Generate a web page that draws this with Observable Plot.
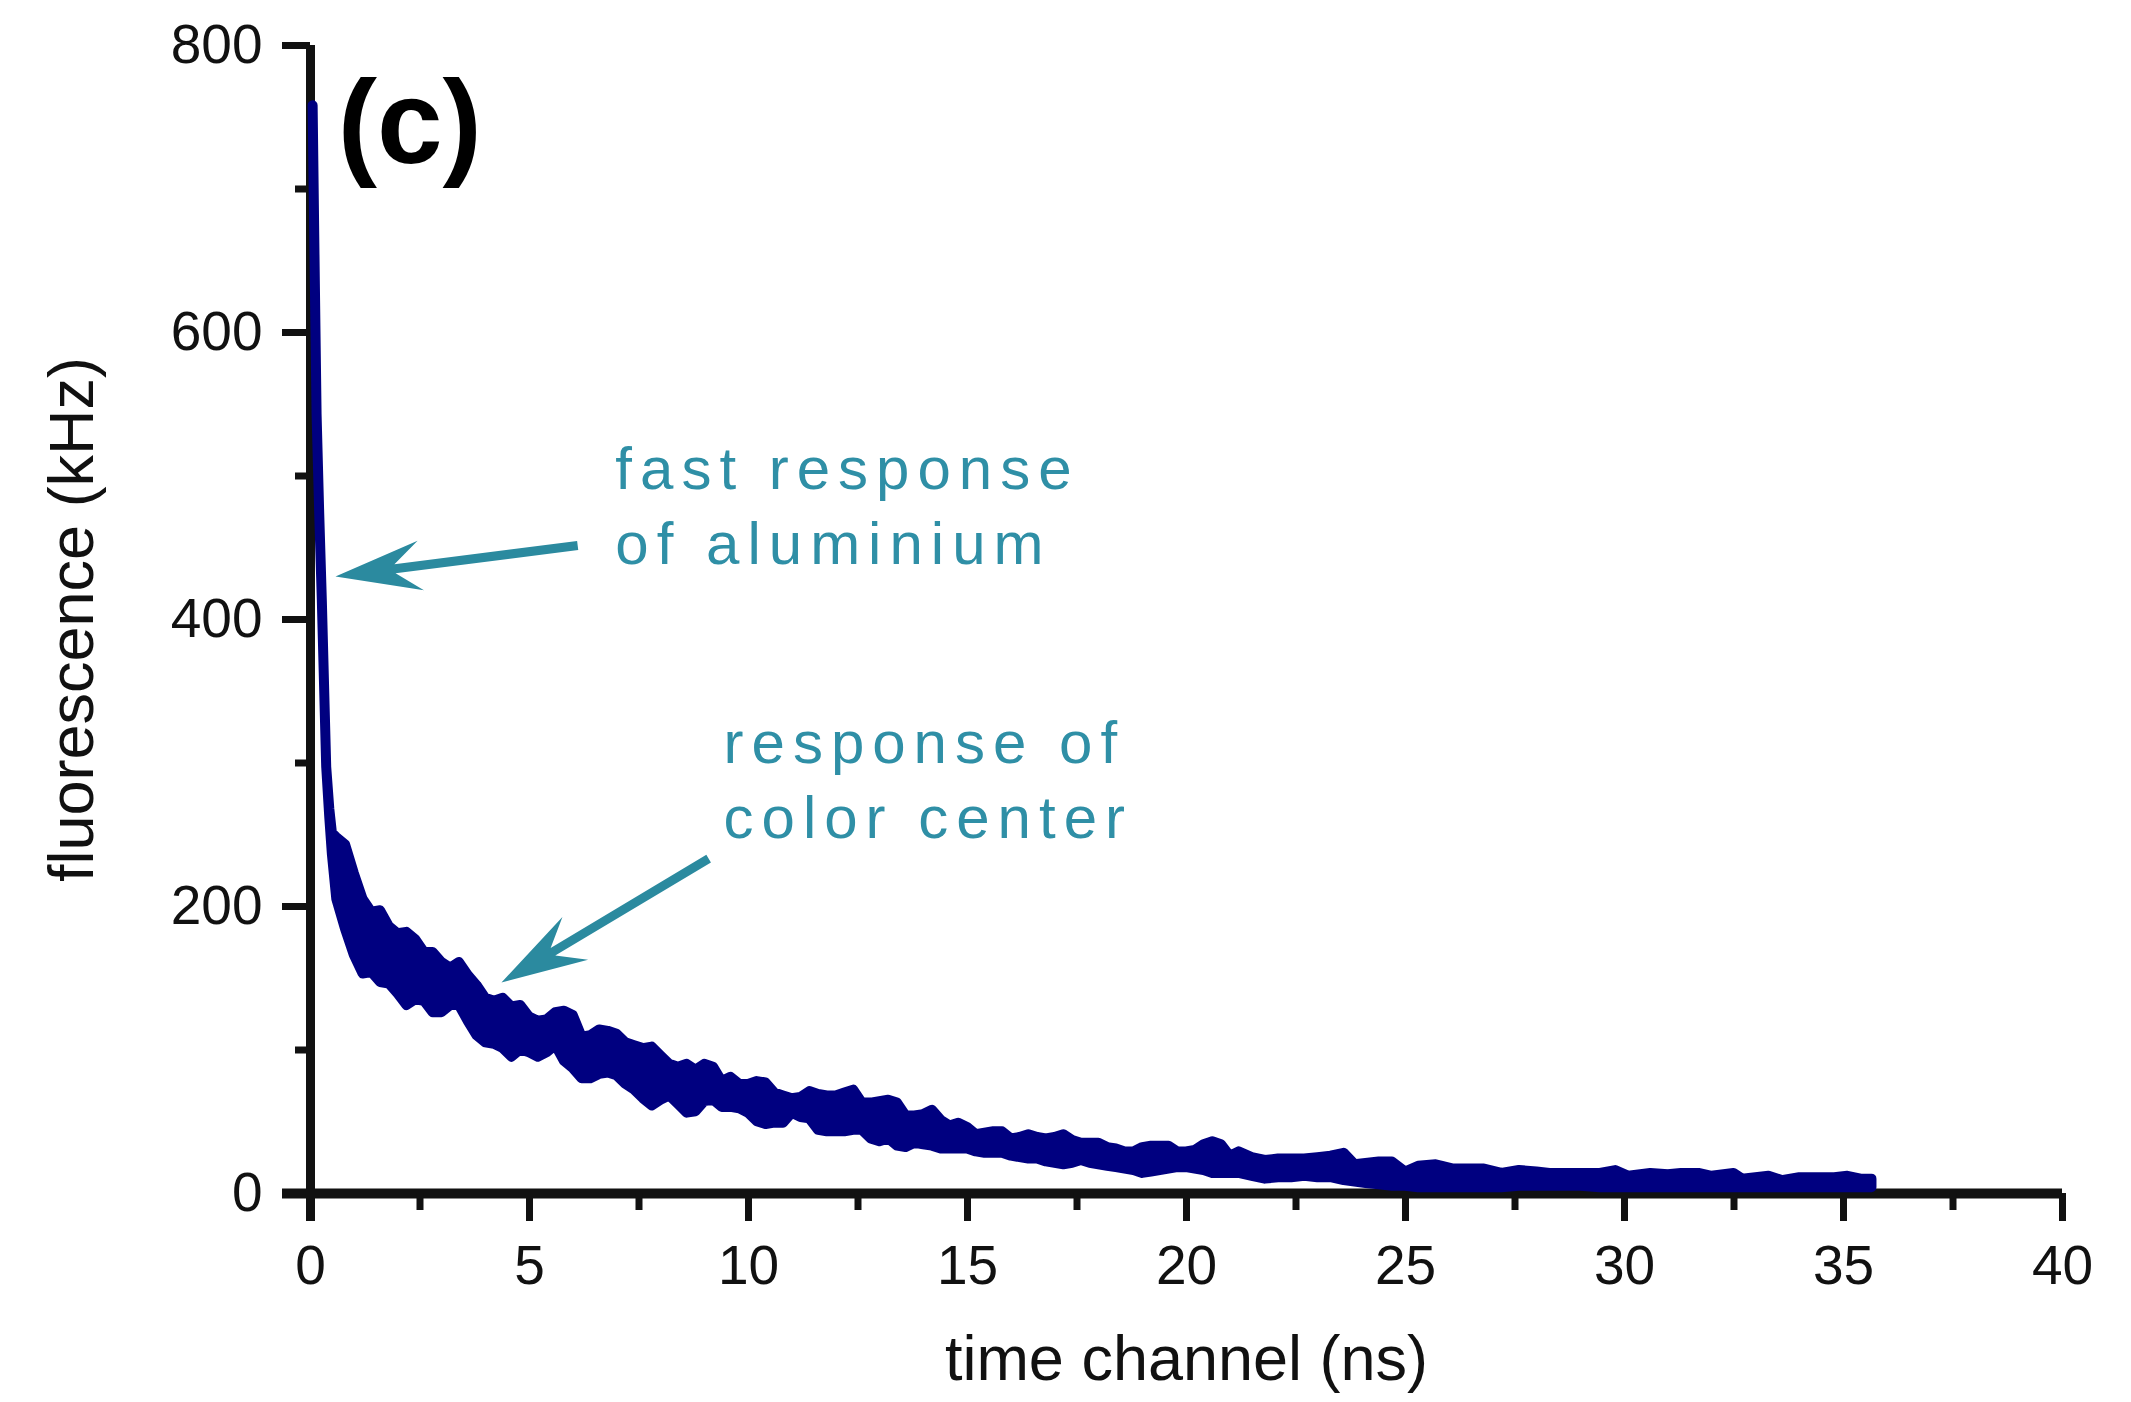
<!DOCTYPE html>
<html>
<head>
<meta charset="utf-8">
<script src="https://cdn.jsdelivr.net/npm/d3@7"></script>
<script src="https://cdn.jsdelivr.net/npm/@observablehq/plot@0.6"></script>
<style>
  html, body { margin: 0; padding: 0; background: #ffffff; overflow: hidden; }
  #chart svg { display: block; }
</style>
</head>
<body>
<div id="chart"></div>
<script>
// ---------------- data ----------------
// time channel (ns) of each sample of the decay trace
const time = [
  0.06, 0.11, 0.15, 0.21, 0.27, 0.37, 0.44, 0.5,
  0.6, 0.8, 1.0, 1.2, 1.4, 1.6, 1.8, 2.0, 2.2, 2.4,
  2.6, 2.8, 3.0, 3.2, 3.4, 3.6, 3.8, 4.0, 4.2, 4.4,
  4.6, 4.8, 5.0, 5.2, 5.4, 5.6, 5.8, 6.0, 6.2, 6.4,
  6.6, 6.8, 7.0, 7.2, 7.4, 7.6, 7.8, 8.0, 8.2, 8.4,
  8.6, 8.8, 9.0, 9.2, 9.4, 9.6, 9.8, 10.0, 10.2, 10.4,
  10.6, 10.8, 11.0, 11.2, 11.4, 11.6, 11.8, 12.0, 12.2, 12.4,
  12.6, 12.8, 13.0, 13.2, 13.4, 13.6, 13.8, 14.0, 14.2, 14.4,
  14.6, 14.8, 15.0, 15.2, 15.4, 15.6, 15.8, 16.0, 16.2, 16.4,
  16.6, 16.8, 17.0, 17.2, 17.4, 17.6, 17.8, 18.0, 18.2, 18.4,
  18.6, 18.8, 19.0, 19.2, 19.4, 19.6, 19.8, 20.0, 20.2, 20.4,
  20.6, 20.8, 21.0, 21.2,
  21.5, 21.8, 22.1, 22.4, 22.7, 23.0, 23.3, 23.6, 23.85, 24.1,
  24.4, 24.7, 25.0, 25.3, 25.7, 26.1, 26.5, 26.8, 27.2, 27.6,
  28.0, 28.3, 28.7, 29.0, 29.45, 29.8, 30.1, 30.6, 31.0, 31.3,
  31.7, 32.0, 32.5, 32.7, 33.3, 33.6, 34.0, 34.4, 34.8, 35.1,
  35.4, 35.65
];
// upper edge of the noisy fluorescence trace (kHz)
const upper = [
  758, 636, 543, 474, 413, 297, 268, 251,
  248, 243, 223, 205, 196, 197, 186, 181, 182, 177,
  168, 168, 161, 157, 161, 152, 145, 136, 134, 136,
  130, 131, 123, 120, 121, 126, 127, 124, 109, 110,
  114, 113, 111, 105, 103, 101, 102, 96, 90, 88,
  90, 86, 90, 88, 78, 81, 76, 76, 78, 77,
  70, 68, 66, 67, 71, 69, 68, 68, 70, 72,
  63, 63, 64, 65, 63, 54, 54, 55, 58, 51,
  47, 49, 46, 41, 42, 43, 43, 38, 39, 41,
  39, 38, 39, 41, 37, 35, 35, 35, 32, 31,
  29, 29, 32, 33, 33, 33, 29, 29, 30, 34,
  36, 34, 26, 29,
  25, 23, 24, 24, 24, 25, 26, 28, 20, 21,
  22, 22, 15, 19, 20, 17, 17, 17, 14, 16,
  15, 14, 14, 14, 14, 16, 12, 14, 13, 14,
  14, 12, 14, 10, 12, 9, 11, 11, 11, 12,
  10, 10
];
// lower edge of the noisy fluorescence trace (kHz)
const lower = [
  758, 636, 543, 474, 413, 297, 262, 236,
  205, 184, 166, 153, 154, 147, 146, 139, 131, 135,
  134, 126, 126, 131, 131, 120, 110, 105, 104, 101,
  95, 100, 98, 95, 98, 103, 92, 87, 80, 80,
  83, 84, 82, 76, 72, 66, 61, 65, 68, 62,
  56, 57, 64, 65, 60, 60, 59, 56, 50, 48,
  49, 49, 56, 53, 52, 44, 43, 43, 43, 44,
  44, 38, 36, 38, 33, 32, 35, 34, 33, 31,
  31, 31, 31, 29, 28, 28, 28, 26, 25, 24,
  24, 22, 21, 20, 21, 23, 21, 20, 19, 18,
  17, 16, 14, 15, 16, 17, 18, 18, 17, 16,
  14, 14, 14, 14,
  12, 10, 11, 11, 12, 11, 11, 9, 8, 7,
  6, 5, 5, 4, 4, 4, 4, 4, 4, 5,
  5, 5, 5, 5, 4, 4, 4, 4, 4, 4,
  4, 4, 4, 4, 4, 4, 4, 4, 4, 4,
  4, 4
];
const xMajorTicks = [0, 5, 10, 15, 20, 25, 30, 35, 40];
const xMinorTicks = [2.5, 7.5, 12.5, 17.5, 22.5, 27.5, 32.5, 37.5];
const yMajorTicks = [0, 200, 400, 600, 800];
const yMinorTicks = [100, 300, 500, 700];
const xTitle = "time channel (ns)";
const yTitle = "fluorescence (kHz)";
const panelLabel = "(c)";
const noteAluminium = "fast response\nof aluminium";
const noteCenter = "response of\ncolor center";

// ---------------- layout & style ----------------
const W = 2131, H = 1402;
const ML = 310, MR = 69, MT = 45, MB = 209;
const innerW = W - ML - MR, innerH = H - MT - MB;
const FONT = "'Liberation Sans', Arial, Helvetica, sans-serif";
const INK = "#111111";
const NAVY = "#000080";
const TEAL_TEXT = "#2f8fa6";
const TEAL_ARROW = "#2b8a9f";

const trace = time.map((t, i) => ({t, lo: lower[i], hi: upper[i]}));

// annotation arrows (tail -> tip, in data units)
const xs = d3.scaleLinear([0, 40], [ML, W - MR]);
const ys = d3.scaleLinear([0, 800], [H - MB, MT]);
const arrowSpecs = [
  {x1: 6.10, y1: 451.6, x2: 0.57, y2: 430},
  {x1: 9.09, y1: 233.4, x2: 4.36, y2: 147}
].map(a => {
  const dx = xs(a.x2) - xs(a.x1), dy = ys(a.y2) - ys(a.y1);
  return {...a, len: Math.hypot(dx, dy), rot: Math.atan2(dx, -dy) * 180 / Math.PI};
});
const arrowShape = {
  draw(ctx, l) {
    const sw = 4.5, notch = 60, back = 86, hw = 25;
    ctx.moveTo(-sw, 0);
    ctx.lineTo(-sw, -l + notch);
    ctx.lineTo(-hw, -l + back);
    ctx.lineTo(0, -l);
    ctx.lineTo(hw, -l + back);
    ctx.lineTo(sw, -l + notch);
    ctx.lineTo(sw, 0);
    ctx.closePath();
  }
};

const arrowMarks = arrowSpecs.map(a => Plot.vector([a], {
  x: d => d.x1, y: d => d.y1, length: a.len, rotate: a.rot,
  anchor: "start", shape: arrowShape, fill: TEAL_ARROW, stroke: "none"
}));

const plot = Plot.plot({
  width: W, height: H,
  marginLeft: ML, marginRight: MR, marginTop: MT, marginBottom: MB,
  x: {domain: [0, 40], axis: null},
  y: {domain: [0, 800], axis: null},
  style: {fontFamily: FONT, background: "#ffffff", color: INK, overflow: "visible"},
  marks: [
    // axis lines
    Plot.ruleX([0], {stroke: INK, strokeWidth: 9, insetBottom: -28}),
    Plot.ruleY([0], {stroke: INK, strokeWidth: 10, insetLeft: -28}),
    // x ticks
    Plot.ruleX(xMajorTicks, {stroke: INK, strokeWidth: 7, insetTop: innerH, insetBottom: -28}),
    Plot.ruleX(xMinorTicks, {stroke: INK, strokeWidth: 7, insetTop: innerH, insetBottom: -17}),
    // y ticks
    Plot.ruleY(yMajorTicks, {stroke: INK, strokeWidth: 7, insetLeft: -28, insetRight: innerW}),
    Plot.ruleY(yMinorTicks, {stroke: INK, strokeWidth: 7, insetLeft: -15, insetRight: innerW}),
    // tick labels
    Plot.text(xMajorTicks, {x: d => d, text: d => String(d), frameAnchor: "bottom", dy: 90,
      lineAnchor: "bottom", fontSize: 55, fill: INK}),
    Plot.text(yMajorTicks, {y: d => d, text: d => String(d), frameAnchor: "left", dx: -48,
      textAnchor: "end", lineAnchor: "middle", fontSize: 55, fill: INK}),
    // axis titles
    Plot.text([xTitle], {text: d => d, frameAnchor: "bottom", dy: 186, lineAnchor: "bottom",
      textAnchor: "middle", fontSize: 63, fill: INK}),
    Plot.text([yTitle], {text: d => d, frameAnchor: "left", dx: -218, rotate: -90,
      textAnchor: "middle", lineAnchor: "bottom", fontSize: 63, fill: INK}),
    // fluorescence decay trace
    Plot.areaY(trace, {x: "t", y1: "lo", y2: "hi", fill: NAVY, stroke: NAVY,
      strokeWidth: 10, strokeLinejoin: "round"}),
    // panel label
    Plot.text([panelLabel], {x: 0.62, y: 718, text: d => d, textAnchor: "start",
      lineAnchor: "bottom", fontSize: 118, fontWeight: "bold", fill: "#000"}),
    // annotations
    Plot.text([noteAluminium], {x: 6.96, y: 439, text: d => d, textAnchor: "start",
      lineAnchor: "bottom", lineHeight: 1.25, fontSize: 60, fill: TEAL_TEXT}),
    Plot.text([noteCenter], {x: 9.43, y: 247.4, text: d => d, textAnchor: "start",
      lineAnchor: "bottom", lineHeight: 1.25, fontSize: 60, fill: TEAL_TEXT}),
    ...arrowMarks
  ]
});

document.getElementById("chart").appendChild(plot);
// wide letter spacing of the teal annotations
plot.querySelectorAll(`g[fill="${TEAL_TEXT}"] text`).forEach(t => t.setAttribute("letter-spacing", "8px"));
</script>
</body>
</html>
